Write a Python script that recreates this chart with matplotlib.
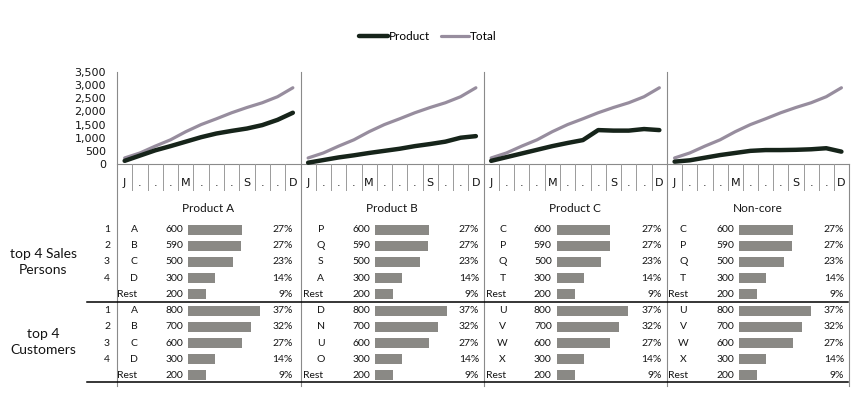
import matplotlib
matplotlib.use("Agg")
import matplotlib.pyplot as plt

plt.rcParams['font.family'] = ['Lato', 'DejaVu Sans']

# ---------------- data ----------------
months = ['J', '.', '.', '.', 'M', '.', '.', '.', 'S', '.', '.', 'D']
panel_titles = ['Product A', 'Product B', 'Product C', 'Non-core']
y_ticks = [0, 500, 1000, 1500, 2000, 2500, 3000, 3500]

total = [230, 420, 680, 920, 1230, 1500, 1720, 1950, 2150, 2330, 2560, 2900]
product_a = [120, 320, 520, 680, 850, 1020, 1160, 1260, 1350, 1480, 1680, 1950]
product_b = [50, 150, 250, 330, 420, 500, 580, 680, 760, 850, 1000, 1060]
product_c = [120, 260, 400, 540, 680, 800, 910, 1290, 1270, 1270, 1330, 1290]
non_core = [90, 140, 240, 340, 420, 500, 530, 530, 540, 560, 600, 470]
products = [product_a, product_b, product_c, non_core]

ranks = ['1', '2', '3', '4', '']
sales_names = [['A', 'B', 'C', 'D', 'Rest'],
               ['P', 'Q', 'S', 'A', 'Rest'],
               ['C', 'P', 'Q', 'T', 'Rest'],
               ['C', 'P', 'Q', 'T', 'Rest']]
cust_names = [['A', 'B', 'C', 'D', 'Rest'],
              ['D', 'N', 'U', 'O', 'Rest'],
              ['U', 'V', 'W', 'X', 'Rest'],
              ['U', 'V', 'W', 'X', 'Rest']]
sales_values = [600, 590, 500, 300, 200]
sales_pct = [27, 27, 23, 14, 9]
cust_values = [800, 700, 600, 300, 200]
cust_pct = [37, 32, 27, 14, 9]

# ---------------- layout ----------------
W, H = 867, 397
fig = plt.figure(figsize=(W / 100, H / 100), dpi=100)


def rect(x0, y0, x1, y1):
    return [x0 / W, 1 - y1 / H, (x1 - x0) / W, (y1 - y0) / H]


ov = fig.add_axes([0, 0, 1, 1])
ov.set_xlim(0, W)
ov.set_ylim(H, 0)
ov.axis('off')

lefts = [117, 300.5, 483.5, 667]
rights = [300.5, 483.5, 667, 849]
PROD_C = '#16241a'
TOT_C = '#978d9e'
GRID_C = '#8a8a8a'
TXT = '#141414'

line_axes = []
for i in range(4):
    ax = fig.add_axes(rect(lefts[i], 72, rights[i], 164))
    xs = list(range(len(months)))
    ax.plot(xs, total, color=TOT_C, lw=2.3, solid_capstyle='round',
            clip_on=False, label='Total', zorder=2)
    ax.plot(xs, products[i], color=PROD_C, lw=3.2, solid_capstyle='round',
            clip_on=False, label='Product', zorder=3)
    ax.set_xlim(-0.5, 11.5)
    ax.set_ylim(0, 3500)
    ax.patch.set_alpha(0)
    for s in ['top', 'right', 'left', 'bottom']:
        ax.spines[s].set_visible(False)
    ax.set_xticks([])
    if i == 0:
        ax.set_yticks(y_ticks)
        ax.set_yticklabels([f'{v:,}' for v in y_ticks], fontfamily='DejaVu Sans',
                           fontsize=8, color=TXT)
        ax.tick_params(axis='y', length=0, pad=8)
    else:
        ax.set_yticks([])
    line_axes.append(ax)

# legend
h = line_axes[0].get_legend_handles_labels()
handles = [h[0][1], h[0][0]]
labels = [h[1][1], h[1][0]]
fig.legend(handles, labels, loc='center', bbox_to_anchor=(428 / W, 1 - 37 / H),
           ncol=2, frameon=False, handlelength=2.4, handletextpad=0.1,
           columnspacing=0.9, prop={'family': 'Lato', 'size': 8.5})

# horizontal axis line and month cells
ov.plot([117, 849], [164, 164], color=GRID_C, lw=0.8)
for i in range(4):
    cw = (rights[i] - lefts[i]) / 12
    for k in range(1, 12):
        x = lefts[i] + k * cw
        ov.plot([x, x], [164, 190], color='#9a9a9a', lw=0.7)
    for k, m in enumerate(months):
        x = lefts[i] + (k + 0.5) * cw
        ov.text(x, 183, m, ha='center', va='center', fontsize=8,
                fontfamily='DejaVu Sans', color=TXT)

# panel separators
for x in lefts:
    ov.plot([x, x], [72, 386], color=GRID_C, lw=0.8)
ov.plot([849, 849], [164, 386], color=GRID_C, lw=0.8)

# table
title_x = [208.5, 392, 575, 757.5]
rest_x = [117.5, 303.3, 486, 667.7]
name_x = [134, 320.7, 502.7, 683.3]
val_x = [183.5, 370, 551.7, 734]
bar_x = [188.3, 375, 556.7, 739]
pct_x = [292.7, 479.3, 661.7, 844]
row_y0, row_dy = 229.6, 16.2
BAR_C = '#8a8985'
FS = 7.5


def row_y(r):
    return row_y0 + row_dy * r


for i in range(4):
    ov.text(title_x[i], 209, panel_titles[i], ha='center', va='center',
            fontsize=8.5, color=TXT)
    bax = fig.add_axes(rect(bar_x[i], row_y(-0.5), bar_x[i] + 89.5, row_y(9.5)))
    bax.set_xlim(0, 1000)
    bax.set_ylim(9.5, -0.5)
    bax.axis('off')
    bax.patch.set_alpha(0)
    bax.barh(range(0, 5), sales_values, height=0.62, color=BAR_C)
    bax.barh(range(5, 10), cust_values, height=0.62, color=BAR_C)
    for block, (names, vals, pcts) in enumerate(
            [(sales_names[i], sales_values, sales_pct),
             (cust_names[i], cust_values, cust_pct)]):
        for j in range(5):
            r = block * 5 + j
            y = row_y(r)
            if i == 0 and ranks[j]:
                ov.text(107, y, ranks[j], ha='center', va='center',
                        fontsize=FS, color=TXT)
            if names[j] == 'Rest':
                ov.text(rest_x[i], y, names[j], ha='left', va='center',
                        fontsize=FS, color=TXT)
            else:
                ov.text(name_x[i], y, names[j], ha='center', va='center',
                        fontsize=FS, color=TXT)
            ov.text(val_x[i], y, str(vals[j]), ha='right', va='center',
                    fontsize=FS, color=TXT)
            ov.text(pct_x[i], y, f'{pcts[j]}%', ha='right', va='center',
                    fontsize=FS, color=TXT)

ov.plot([87, 848], [302, 302], color='black', lw=1.1)
ov.plot([87, 848], [381.5, 381.5], color='black', lw=1.1)

ov.text(43, 262, 'top 4 Sales\nPersons', ha='center', va='center',
        fontsize=10, color=TXT, linespacing=1.45)
ov.text(43, 342, 'top 4\nCustomers', ha='center', va='center',
        fontsize=10, color=TXT, linespacing=1.45)

fig.savefig('out.png', dpi=100)
